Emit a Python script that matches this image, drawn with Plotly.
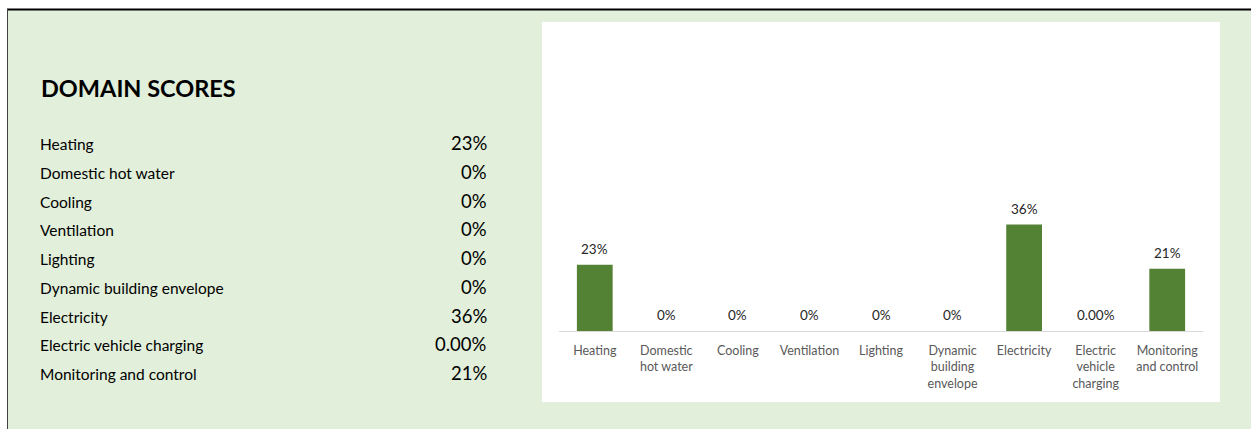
import plotly.graph_objects as go

# ---- data ----
categories = ["Heating", "Domestic hot water", "Cooling", "Ventilation", "Lighting",
              "Dynamic building envelope", "Electricity", "Electric vehicle charging",
              "Monitoring and control"]
tick_labels = ["Heating", "Domestic<br>hot water", "Cooling", "Ventilation", "Lighting",
               "Dynamic<br>building<br>envelope", "Electricity", "Electric<br>vehicle<br>charging",
               "Monitoring<br>and control"]
scores = [0.225, 0.0, 0.0, 0.0, 0.0, 0.0, 0.362, 0.0, 0.212]
score_labels = ["23%", "0%", "0%", "0%", "0%", "0%", "36%", "0.00%", "21%"]
title_text = "DOMAIN SCORES"

W, H = 1251, 429
L, R, T, B = 559, 1203, 37, 331  # plot area in pixels


def px(x):
    return (x - L) / (R - L)


def py(y):
    return (B - y) / (B - T)


GREEN_BG = "#E2EFDA"
BAR = "#548235"
FONT = "Lato"

fig = go.Figure()
fig.add_trace(go.Bar(
    x=tick_labels, y=scores, marker=dict(color=BAR, line=dict(width=0)),
    hoverinfo="skip", showlegend=False,
))

annotations = []
# data labels
for lab, v, t in zip(tick_labels, scores, score_labels):
    annotations.append(dict(x=lab, y=v, xref="x", yref="y", text=t, showarrow=False,
                            yanchor="middle", yshift=16,
                            font=dict(family=FONT, size=13.5, color="#262626")))
# title
annotations.append(dict(x=px(39), y=py(88), xref="paper", yref="paper", text="<b>" + title_text + "</b>",
                        showarrow=False, xanchor="left", yanchor="middle",
                        font=dict(family=FONT, size=23.5, color="#000000")))
# left list
row0, step = 144, 28.75
for i, (c, t) in enumerate(zip(categories, score_labels)):
    yy = row0 + i * step
    annotations.append(dict(x=px(38), y=py(yy), xref="paper", yref="paper", text=c,
                            showarrow=False, xanchor="left", yanchor="middle",
                            font=dict(family=FONT, size=15.5, color="#000000")))
    annotations.append(dict(x=px(489), y=py(yy - 1), xref="paper", yref="paper", text=t,
                            showarrow=False, xanchor="right", yanchor="middle",
                            font=dict(family=FONT, size=18.5, color="#000000")))

shapes = [
    # green sheet area
    dict(type="rect", xref="paper", yref="paper", x0=px(7), x1=px(W + 5), y0=py(10), y1=py(H + 5),
         fillcolor=GREEN_BG, line=dict(width=0), layer="below"),
    # white chart panel
    dict(type="rect", xref="paper", yref="paper", x0=px(542), x1=px(1220), y0=py(22), y1=py(402),
         fillcolor="#FFFFFF", line=dict(width=0), layer="below"),
    # top black border
    dict(type="line", xref="paper", yref="paper", x0=px(7), x1=px(W + 5), y0=py(9.5), y1=py(9.5),
         line=dict(color="#000000", width=2)),
    # left border
    dict(type="line", xref="paper", yref="paper", x0=px(7.5), x1=px(7.5), y0=py(9), y1=py(H + 5),
         line=dict(color="#404040", width=1)),
]

fig.update_layout(
    width=W, height=H,
    margin=dict(l=L, r=W - R, t=T, b=H - B, pad=0),
    paper_bgcolor="#FFFFFF", plot_bgcolor="rgba(0,0,0,0)",
    bargap=0.5,
    annotations=annotations, shapes=shapes,
    xaxis=dict(showgrid=False, zeroline=False, showline=True, linecolor="#D9D9D9", linewidth=1,
               ticks="", tickfont=dict(family=FONT, size=12.5, color="#595959"),
               fixedrange=True, ticklabelstandoff=8),
    yaxis=dict(range=[0, 1], visible=False, showgrid=False, zeroline=False, fixedrange=True),
)

fig.write_html("out.html", config={"displayModeBar": False})
